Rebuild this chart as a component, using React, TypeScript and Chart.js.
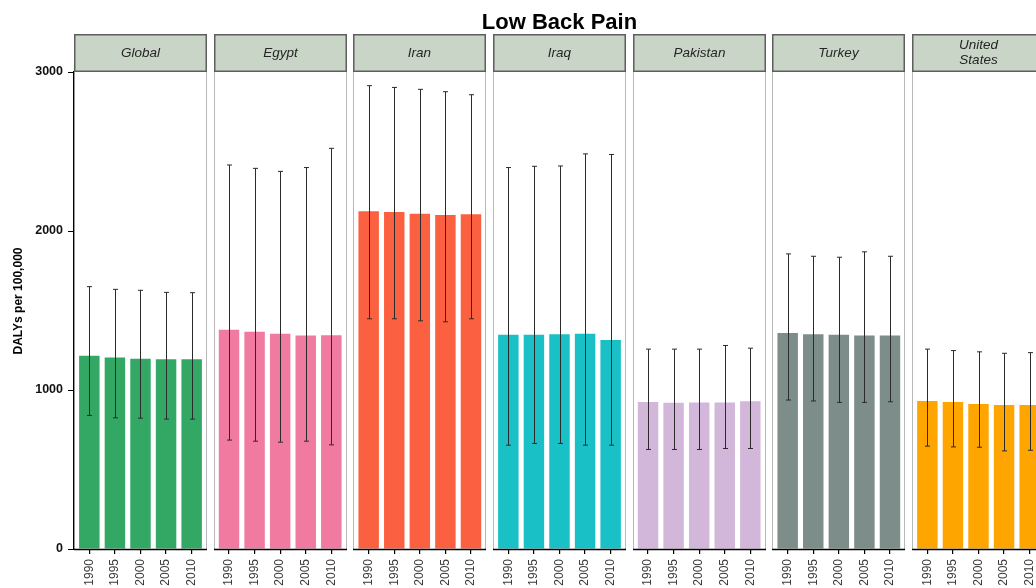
import React, { useEffect, useRef } from 'react';
import { Chart, registerables } from 'chart.js';

Chart.register(...registerables);

// ---------- data ----------
const chartTitle = 'Low Back Pain';
const yAxisTitle = 'DALYs per 100,000';
const years = ['1990', '1995', '2000', '2005', '2010'];
const countries = ['Global', 'Egypt', 'Iran', 'Iraq', 'Pakistan', 'Turkey', 'United States'];
const stripLabels = [['Global'], ['Egypt'], ['Iran'], ['Iraq'], ['Pakistan'], ['Turkey'], ['United', 'States']];
const yTicks = [0, 1000, 2000, 3000];

const globalDalys = [1215, 1204, 1197, 1194, 1194];
const globalLower = [840, 825, 823, 817, 817];
const globalUpper = [1650, 1633, 1627, 1614, 1612];

const egyptDalys = [1379, 1366, 1353, 1343, 1345];
const egyptLower = [685, 678, 672, 678, 655];
const egyptUpper = [2415, 2394, 2375, 2399, 2520];

const iranDalys = [2125, 2119, 2108, 2100, 2106];
const iranLower = [1448, 1448, 1435, 1429, 1448];
const iranUpper = [2914, 2903, 2891, 2876, 2857];

const iraqDalys = [1347, 1347, 1350, 1353, 1314];
const iraqLower = [653, 664, 664, 653, 653];
const iraqUpper = [2399, 2407, 2409, 2485, 2481];

const pakistanDalys = [924, 920, 922, 922, 929];
const pakistanLower = [626, 626, 626, 632, 632];
const pakistanUpper = [1257, 1257, 1257, 1280, 1263];

const turkeyDalys = [1358, 1351, 1347, 1343, 1343];
const turkeyLower = [937, 931, 922, 922, 926];
const turkeyUpper = [1856, 1841, 1835, 1869, 1841];

const usDalys = [931, 924, 912, 905, 905];
const usLower = [647, 642, 640, 617, 621];
const usUpper = [1257, 1248, 1240, 1231, 1235];

const dalysByCountry = [globalDalys, egyptDalys, iranDalys, iraqDalys, pakistanDalys, turkeyDalys, usDalys];
const lowerByCountry = [globalLower, egyptLower, iranLower, iraqLower, pakistanLower, turkeyLower, usLower];
const upperByCountry = [globalUpper, egyptUpper, iranUpper, iraqUpper, pakistanUpper, turkeyUpper, usUpper];

// ---------- styles / layout ----------
const colors = ['#33a865', '#f07aa0', '#fb6140', '#19c0c6', '#d3b7da', '#7d8e8a', '#ffa500'];
const FONT = "'Liberation Sans', Arial, sans-serif";
const PANEL_PITCH = 5.461; // x units between panel starts
const PANEL_SPAN = 5.2; // x units of a panel
const BAR_OFFSET = 0.6; // first bar position within a panel

const xPos = (panel: number, j: number) => panel * PANEL_PITCH + BAR_OFFSET + j;

const facetPlugin = {
  id: 'facets',
  afterDatasetsDraw(chart: any) {
    const { ctx, chartArea, scales } = chart;
    const xs = scales.x;
    const ys = scales.y;
    ctx.save();
    // error bars
    ctx.strokeStyle = '#2b2b2b';
    ctx.lineWidth = 1;
    countries.forEach((_, i) => {
      years.forEach((__, j) => {
        const px = Math.round(xs.getPixelForValue(xPos(i, j))) + 0.5;
        const yl = ys.getPixelForValue(lowerByCountry[i][j]);
        const yu = ys.getPixelForValue(upperByCountry[i][j]);
        ctx.beginPath();
        ctx.moveTo(px, yl);
        ctx.lineTo(px, yu);
        ctx.moveTo(px - 2.5, yl);
        ctx.lineTo(px + 2.5, yl);
        ctx.moveTo(px - 2.5, yu);
        ctx.lineTo(px + 2.5, yu);
        ctx.stroke();
      });
    });
    // panel borders
    countries.forEach((_, i) => {
      const xL = Math.round(xs.getPixelForValue(i * PANEL_PITCH));
      const xR = Math.round(xs.getPixelForValue(i * PANEL_PITCH + PANEL_SPAN));
      ctx.strokeStyle = '#b8b8b8';
      ctx.lineWidth = 1;
      ctx.beginPath();
      ctx.moveTo(xR - 0.5, chartArea.top);
      ctx.lineTo(xR - 0.5, chartArea.bottom);
      if (i > 0) {
        ctx.moveTo(xL + 0.5, chartArea.top);
        ctx.lineTo(xL + 0.5, chartArea.bottom);
      }
      ctx.stroke();
      ctx.strokeStyle = '#000';
      ctx.lineWidth = 1.4;
      ctx.beginPath();
      ctx.moveTo(xL, chartArea.bottom + 0.5);
      ctx.lineTo(xR, chartArea.bottom + 0.5);
      ctx.stroke();
    });
    ctx.restore();
  },
  afterDraw(chart: any) {
    const { ctx, chartArea, scales } = chart;
    const xs = scales.x;
    ctx.save();
    // strips
    countries.forEach((_, i) => {
      const xL = Math.round(xs.getPixelForValue(i * PANEL_PITCH));
      const xR = Math.round(xs.getPixelForValue(i * PANEL_PITCH + PANEL_SPAN));
      const top = 34;
      const bot = chartArea.top;
      ctx.fillStyle = '#c9d5c7';
      ctx.fillRect(xL, top, xR - xL, bot - top);
      ctx.strokeStyle = '#5e5e5e';
      ctx.lineWidth = 1.5;
      ctx.strokeRect(xL + 0.75, top + 0.75, xR - xL - 1.5, bot - top - 1.5);
      ctx.fillStyle = '#262626';
      ctx.font = `italic 13.5px ${FONT}`;
      ctx.textAlign = 'center';
      ctx.textBaseline = 'middle';
      const lines = stripLabels[i];
      const cx = (xL + xR) / 2;
      const cy = (top + bot) / 2;
      const lh = 15;
      lines.forEach((t, k) => {
        ctx.fillText(t, cx, cy + (k - (lines.length - 1) / 2) * lh);
      });
    });
    // main title
    ctx.fillStyle = '#000';
    ctx.font = `bold 22px ${FONT}`;
    ctx.textAlign = 'center';
    ctx.textBaseline = 'alphabetic';
    ctx.fillText(chartTitle, (chartArea.left + chartArea.right) / 2, 29);
    // y axis title
    ctx.translate(19, 301);
    ctx.rotate(-Math.PI / 2);
    ctx.font = `bold 12px ${FONT}`;
    ctx.textBaseline = 'middle';
    ctx.fillText(yAxisTitle, 0, 0);
    ctx.restore();
  },
};

export default function App() {
  const canvasRef = useRef<HTMLCanvasElement | null>(null);

  useEffect(() => {
    if (!canvasRef.current) return;
    const tickPositions: number[] = [];
    const tickLabels: string[] = [];
    countries.forEach((_, i) =>
      years.forEach((y, j) => {
        tickPositions.push(xPos(i, j));
        tickLabels.push(y);
      })
    );
    const datasets = countries.map((c, i) => ({
      label: c,
      data: dalysByCountry[i].map((v, j) => ({ x: xPos(i, j), y: v })),
      backgroundColor: colors[i],
      borderWidth: 0,
      grouped: false,
      categoryPercentage: 1,
      barPercentage: 0.8,
    }));
    const chart = new Chart(canvasRef.current, {
      type: 'bar',
      data: { datasets } as any,
      plugins: [facetPlugin],
      options: {
        animation: false,
        responsive: false,
        maintainAspectRatio: false,
        layout: { padding: { top: 72, right: 15, left: 0, bottom: 0 } },
        plugins: { legend: { display: false }, tooltip: { enabled: false }, title: { display: false } },
        scales: {
          x: {
            type: 'linear',
            offset: false,
            min: 0,
            max: (countries.length - 1) * PANEL_PITCH + PANEL_SPAN,
            afterBuildTicks: (scale: any) => {
              scale.ticks = tickPositions.map((v) => ({ value: v }));
            },
            afterFit: (scale: any) => {
              scale.height = 39;
            },
            ticks: {
              autoSkip: false,
              minRotation: 90,
              maxRotation: 90,
              padding: 5,
              color: '#3a3a3a',
              font: { family: FONT, size: 12 },
              callback: (_v: any, idx: number) => tickLabels[idx],
            },
            grid: { offset: false, drawOnChartArea: false, tickLength: 5, color: '#000', lineWidth: 1.2 },
            border: { display: false },
          },
          y: {
            min: 0,
            max: 3000,
            afterBuildTicks: (scale: any) => {
              scale.ticks = yTicks.map((v) => ({ value: v }));
            },
            afterFit: (scale: any) => {
              scale.width = 74;
            },
            ticks: {
              padding: 5,
              color: '#111',
              font: { family: FONT, size: 12.5, weight: 'bold' },
              callback: (v: any) => String(v),
            },
            grid: { drawOnChartArea: false, tickLength: 6, color: '#000', lineWidth: 1 },
            border: { display: true, color: '#000', width: 1.4 },
            title: { display: false },
          },
        },
      } as any,
    });
    return () => chart.destroy();
  }, []);

  return (
    <div style={{ position: 'fixed', left: 0, top: 0, width: 1036, height: 588, overflow: 'hidden', background: '#fff' }}>
      <canvas ref={canvasRef} width={1060} height={588} style={{ display: 'block', width: 1060, height: 588 }} />
    </div>
  );
}
